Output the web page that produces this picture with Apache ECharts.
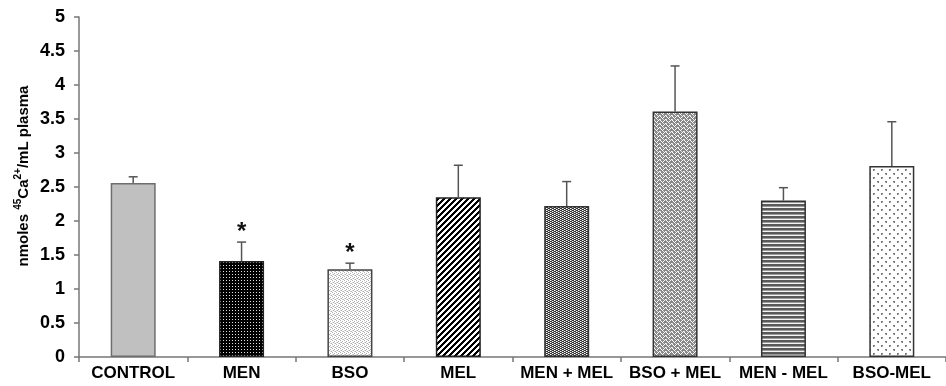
<!DOCTYPE html>
<html>
<head>
<meta charset="utf-8">
<script src="https://cdn.jsdelivr.net/npm/echarts@6/dist/echarts.min.js"></script>
<style>
  html, body { margin: 0; padding: 0; background: #fff; }
  #chart { width: 946px; height: 386px; }
</style>
</head>
<body>
<div id="chart"></div>
<script>
// Plasma 45Ca2+ per treatment group (mean and SEM)
const categories = ['CONTROL', 'MEN', 'BSO', 'MEL', 'MEN + MEL', 'BSO + MEL', 'MEN - MEL', 'BSO-MEL'];
const means = [2.56, 1.41, 1.29, 2.35, 2.22, 3.61, 2.30, 2.81];
const errors = [0.09, 0.28, 0.09, 0.47, 0.36, 0.67, 0.19, 0.65];
const significant = [false, true, true, false, false, false, false, false];
const yTicks = [0, 0.5, 1, 1.5, 2, 2.5, 3, 3.5, 4, 4.5, 5];

// Small repeating tiles used as bar fills
function tile(w, h, draw) {
  const c = document.createElement('canvas');
  c.width = w; c.height = h;
  const g = c.getContext('2d');
  draw(g, w, h);
  return { image: c, repeat: 'repeat' };
}
function px(g, color, pts) {
  g.fillStyle = color;
  for (const [x, y] of pts) g.fillRect(x, y, 1, 1);
}

const fills = [
  '#c0c0c0',
  // black with white dots
  tile(3, 3, (g, w, h) => { g.fillStyle = '#000'; g.fillRect(0, 0, w, h); px(g, '#e0e0e0', [[1, 1]]); }),
  // fine light stipple
  tile(4, 4, (g, w, h) => { g.fillStyle = '#fff'; g.fillRect(0, 0, w, h); px(g, '#b0b0b0', [[0, 0], [2, 1], [1, 2], [3, 3]]); px(g, '#d8d8d8', [[2, 3], [0, 2]]); }),
  // wide upward diagonal stripes
  tile(6, 6, (g, w, h) => {
    g.fillStyle = '#fff'; g.fillRect(0, 0, w, h);
    g.fillStyle = '#000';
    for (let i = 0; i < 6; i++) { g.fillRect((5 - i + 6) % 6, i, 3, 1); if ((5 - i) + 3 > 6) g.fillRect(0, i, (5 - i) + 3 - 6, 1); }
  }),
  // small weave
  tile(4, 4, (g, w, h) => {
    g.fillStyle = '#fff'; g.fillRect(0, 0, w, h);
    px(g, '#333', [[0, 0], [1, 0], [2, 1], [3, 1], [0, 2], [1, 2], [2, 3], [3, 3]]);
    px(g, '#999', [[3, 0], [1, 1], [3, 2], [1, 3]]);
  }),
  // grey zigzag
  tile(6, 4, (g, w, h) => {
    g.fillStyle = '#888'; g.fillRect(0, 0, w, h);
    px(g, '#fff', [[0, 0], [1, 1], [2, 2], [3, 1], [4, 0], [5, 3]]);
    px(g, '#ddd', [[3, 3], [0, 3]]);
  }),
  // horizontal lines
  tile(1, 4, (g, w, h) => {
    g.fillStyle = '#5a5a5a'; g.fillRect(0, 0, 1, 2);
    g.fillStyle = '#9a9a9a'; g.fillRect(0, 2, 1, 1);
    g.fillStyle = '#f4f4f4'; g.fillRect(0, 3, 1, 1);
  }),
  // sparse dot clusters
  tile(8, 8, (g, w, h) => {
    g.fillStyle = '#fff'; g.fillRect(0, 0, w, h);
    px(g, '#777', [[1, 1], [2, 1], [1, 2], [5, 5], [6, 5], [6, 6]]);
    px(g, '#bbb', [[2, 2], [5, 6]]);
  })
];

const borderColors = ['#6e6e6e', '#222', '#444', '#222', '#333', '#333', '#333', '#333'];

const chart = echarts.init(document.getElementById('chart'), null, { renderer: 'canvas' });
const font = 'Liberation Sans, Arial, sans-serif';

chart.setOption({
  animation: false,
  backgroundColor: '#fff',
  grid: { left: 79, top: 17, width: 877, height: 340 },
  // rotated y-axis title with superscripts
  graphic: [{
    type: 'text',
    x: 22, y: 176,
    rotation: Math.PI / 2,
    style: {
      text: '{a|nmoles }{s|45}{a|Ca}{s|2+}{a|/mL plasma}',
      align: 'center',
      verticalAlign: 'middle',
      rich: {
        a: { fontFamily: font, fontWeight: 'bold', fontSize: 15, fill: '#000', lineHeight: 18, verticalAlign: 'bottom' },
        s: { fontFamily: font, fontWeight: 'bold', fontSize: 10, fill: '#000', lineHeight: 18, verticalAlign: 'top' }
      }
    }
  }],
  xAxis: {
    type: 'category',
    data: categories,
    axisLine: { lineStyle: { color: '#777', width: 1.5 } },
    axisTick: { show: true, interval: 0, length: 5, lineStyle: { color: '#777', width: 1.5 } },
    axisLabel: { interval: 0, color: '#000', fontFamily: font, fontWeight: 'bold', fontSize: 17, margin: 8 }
  },
  yAxis: {
    type: 'value',
    min: 0, max: 5, interval: 0.5,
    splitLine: { show: false },
    axisLine: { show: true, lineStyle: { color: '#777', width: 1.5 } },
    axisTick: { show: true, length: 5, lineStyle: { color: '#777', width: 1.5 } },
    axisLabel: {
      color: '#000', fontFamily: font, fontWeight: 'bold', fontSize: 18, margin: 14,
      formatter: v => yTicks.includes(v) ? String(v) : ''
    }
  },
  series: [
    {
      type: 'bar',
      barWidth: 45,
      data: means.map((v, i) => ({
        value: v,
        itemStyle: { color: fills[i], borderColor: borderColors[i], borderWidth: 1.5 }
      })),
      z: 2
    },
    {
      type: 'custom',
      data: means.map((v, i) => [i, v, errors[i], significant[i] ? 1 : 0]),
      renderItem: function (params, api) {
        const i = api.value(0);
        const m = api.value(1);
        const e = api.value(2);
        const base = api.coord([i, m]);
        const top = api.coord([i, m + e]);
        const style = { stroke: '#555', lineWidth: 1.5 };
        const children = [
          { type: 'line', shape: { x1: base[0], y1: base[1], x2: top[0], y2: top[1] }, style },
          { type: 'line', shape: { x1: top[0] - 4.5, y1: top[1], x2: top[0] + 4.5, y2: top[1] }, style }
        ];
        if (api.value(3)) {
          children.push({
            type: 'text',
            style: {
              text: '*', x: top[0], y: top[1] + 2, align: 'center', verticalAlign: 'bottom',
              font: 'bold 24px ' + font, fill: '#111'
            }
          });
        }
        return { type: 'group', children };
      },
      z: 3
    }
  ]
});
</script>
</body>
</html>
